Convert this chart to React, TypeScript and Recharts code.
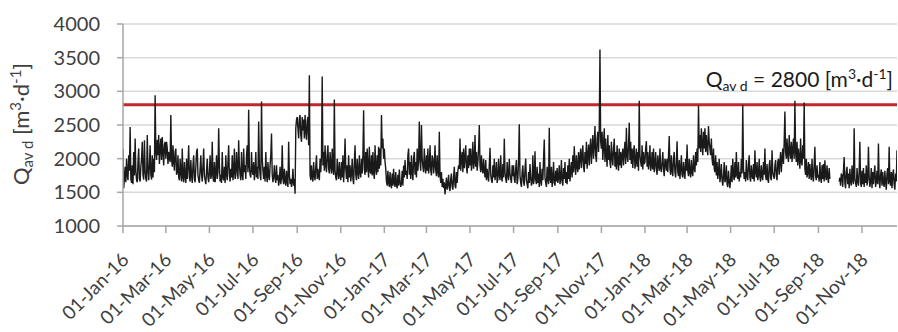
import { LineChart, Line, XAxis, YAxis, CartesianGrid, ReferenceLine } from 'recharts'

// daily mean flow Q_av d [m3/d], one value per day starting 01-Jan-2016
const flow2016a = [
  // Jan
  2150, 1560, 1700, 1880, 1650, 2000, 1760, 1680, 2050, 1820,
  2470, 1700, 1640, 1900, 1620, 2100, 1750, 2300, 1820, 1680,
  1650, 1950, 2150, 1700, 1660, 1880, 2000, 2250, 1760, 1690,
  2275,
  // Feb
  1820, 1700, 1660, 2350, 1850, 1680, 1900, 2200, 1760, 1690,
  2050, 1720, 2000, 1800, 2940, 2100, 1980, 2280, 2050, 2350,
  1920, 2150, 2300, 1980, 2320, 2100, 1900, 2200, 2250,
  // Mar
  2000, 2250, 2150, 1920, 2100, 2000, 1950, 2650, 2000, 1880,
  2200, 1950, 1820, 2100, 2150, 1760, 1800, 2050, 1720, 1680,
  2000, 1800, 1660, 2150, 1720, 1650, 1950, 1740, 1640, 2000,
  1700,
  // Apr
  1900, 2200, 1720, 1660, 1980, 1750, 1640, 1900, 2050, 1700,
  1650, 1880, 2100, 2150, 1760, 1680, 1640, 1850, 2050, 1760,
  1660, 1900, 2150, 1740, 1680, 1620, 1820, 2000, 1720, 1650,
  // May
  1800, 2050, 1700, 1760, 2250, 1720, 1660, 1950, 1650, 1780,
  2050, 1700, 1800, 2450, 1900, 1660, 1760, 1640, 2100, 1720,
  1680, 1880, 1640, 2050, 1760, 1680, 1950, 2200, 1760, 1660,
  1850,
  // Jun
  1720, 2050, 1680, 1800, 2150, 1700, 1760, 2100, 1850, 1700,
  2275, 1900, 1760, 1680, 2100, 1760, 1680, 2150, 1800, 1900,
  1700, 2050, 2200, 1800, 2725, 1880, 1760, 1720, 2100, 1820,
]

const flow2016b = [
  // Jul
  1760, 1950, 1680, 1820, 2100, 1720, 1880, 1700, 2550, 1900,
  1760, 1680, 2850, 2000, 1820, 1700, 1880, 1660, 2100, 1760,
  1650, 1950, 1740, 1680, 1900, 2050, 2375, 1760, 1650, 1740,
  1900,
  // Aug
  1700, 1640, 1900, 1680, 1760, 1600, 1680, 1880, 1620, 1720,
  2200, 1700, 1620, 1850, 1660, 1600, 1820, 1650, 1580, 2250,
  1760, 1620, 1700, 1580, 1660, 1850, 1600, 1700, 1480, 2450,
  2580,
  // Sep
  2620, 2450, 2300, 2600, 2650, 2350, 2250, 2620, 2420, 2580,
  2300, 2650, 2400, 2280, 2560, 2620, 2200, 3240, 1760, 1680,
  1900, 1720, 1660, 1950, 1740, 1680, 1880, 2050, 1700, 1850,
  // Oct
  1740, 1680, 2000, 1800, 2050, 3220, 1900, 2100, 1820, 2200,
  1900, 1800, 2050, 2200, 1850, 1780, 2100, 1900, 1780, 2150,
  1850, 1760, 2880, 1820, 1720, 1680, 2000, 1800, 1700, 1950,
  1760,
  // Nov
  1680, 1950, 1720, 2050, 1650, 1880, 2300, 1850, 1700, 1900,
  1650, 2050, 1720, 1900, 1660, 1780, 2000, 1700, 1620, 1950,
  2200, 1760, 1680, 2000, 1800, 1700, 2050, 1800, 1720, 2000,
  // Dec
  1780, 2050, 2720, 1840, 1760, 2100, 1800, 2150, 1880, 1720,
  2175, 1820, 1780, 2050, 1750, 2100, 1800, 1700, 2200, 1850,
  1760, 2050, 1800, 2175, 1850, 2150, 1900, 2650, 2150, 2300,
  2000,
]

const flow2017a = [
  // Jan
  2150, 1950, 1850, 1660, 1600, 1820, 1640, 1580, 1800, 1620,
  1560, 1780, 1600, 1850, 1640, 1580, 1800, 1620, 1560, 1760,
  1600, 1840, 1650, 1580, 1640, 1820, 1600, 1900, 1720, 1980,
  1760,
  // Feb
  1820, 1700, 2050, 2150, 1760, 1950, 1700, 2050, 1800, 1680,
  2000, 2100, 1760, 1950, 1720, 2150, 1820, 2000, 2550, 1950,
  1820, 2500, 2000, 1880, 1800, 2150, 1880, 1780,
  // Mar
  2050, 1820, 2150, 1780, 1900, 2200, 1820, 1750, 2050, 2000,
  1780, 1900, 2200, 1820, 1740, 2050, 1800, 1720, 2400, 1760,
  1640, 1800, 1580, 1700, 1560, 1650, 1470, 1600, 1720, 1540,
  1620,
  // Apr
  1760, 1560, 1520, 1700, 1780, 1580, 1540, 1720, 1880, 1600,
  1560, 1800, 1640, 1820, 1900, 1850, 2300, 1820, 2000, 2100,
  1800, 2150, 1860, 2000, 2200, 1880, 1780, 2050, 1860, 2150,
  // May
  1900, 2150, 1820, 1950, 2250, 1850, 1950, 2350, 1880, 2100,
  1820, 1950, 2150, 2500, 1900, 1800, 2050, 1850, 1780, 2000,
  1820, 1720, 1980, 1680, 1850, 1740, 1660, 1900, 2160, 1760,
  1680,
  // Jun
  1640, 1900, 1720, 2000, 1680, 1780, 1950, 1640, 1700, 2000,
  1760, 1680, 2050, 1740, 1660, 1920, 1720, 2295, 1800, 1700,
  1640, 1950, 1760, 1680, 2000, 1780, 1700, 1640, 1900, 1740,
]

const flow2017b = [
  // Jul
  1900, 1700, 1640, 1860, 1980, 1620, 1700, 1950, 2510, 1750,
  1640, 1580, 1800, 1900, 1660, 1600, 1850, 2000, 1680, 1620,
  1560, 1800, 1640, 1920, 1720, 1600, 1660, 2050, 1620, 1720,
  2110,
  // Aug
  1680, 1620, 1880, 1640, 1780, 1580, 1950, 1660, 1600, 1850,
  1680, 2000, 2285, 1720, 1640, 1580, 1880, 1700, 1620, 2460,
  1700, 1640, 1880, 1580, 1700, 1950, 1640, 1600, 1820, 1660,
  1860,
  // Sep
  1640, 1720, 1900, 1620, 1700, 1980, 1660, 1600, 1860, 1700,
  1950, 1640, 1800, 1620, 1900, 1700, 2000, 1660, 1820, 1950,
  1720, 2050, 1800, 2185, 1900, 1760, 2050, 1880, 1800, 2100,
  // Oct
  1840, 2000, 2150, 1860, 2050, 2200, 1880, 1800, 2100, 1920,
  2250, 1850, 2050, 2210, 1900, 2150, 2300, 1920, 2150, 2350,
  2000, 2200, 2485, 2050, 1950, 2300, 2400, 2100, 2450, 3620,
  2250,
  // Nov
  2150, 2400, 1980, 2200, 2450, 1950, 2300, 2050, 1880, 2350,
  1980, 2200, 1950, 1860, 2250, 2020, 1900, 2150, 2300, 1880,
  2100, 1840, 2200, 1950, 1820, 2150, 1900, 2100, 1860, 2050,
  // Dec
  2150, 1900, 2100, 2250, 1920, 2460, 2050, 1950, 2200, 2535,
  1980, 2250, 1920, 2150, 1860, 2100, 2200, 1850, 1950, 2150,
  1880, 2100, 1820, 2860, 2050, 1950, 1880, 2200, 1840, 2100,
  1920,
]

const flow2018a = [
  // Jan
  1950, 2150, 2260, 1880, 2100, 1840, 1950, 2200, 1820, 1900,
  2100, 1840, 2150, 1800, 1920, 2100, 1840, 1760, 2050, 1900,
  1820, 2150, 1860, 1800, 1940, 2100, 1840, 1740, 2000, 1950,
  1820,
  // Feb
  2000, 1800, 2050, 2335, 1850, 1760, 2050, 1820, 1740, 2000,
  2100, 1800, 1720, 1950, 2260, 1800, 1740, 1980, 1700, 1850,
  2050, 1760, 1720, 1950, 1800, 1700, 2000, 1820,
  // Mar
  2210, 1820, 1740, 2000, 1800, 1720, 1980, 1800, 1740, 2050,
  1850, 1800, 2100, 1900, 2150, 1950, 2785, 2150, 2350, 2100,
  2450, 2200, 2050, 2400, 2150, 2450, 2100, 2350, 2150, 2050,
  2485,
  // Apr
  2250, 2150, 2050, 2300, 2000, 1900, 2150, 1850, 1800, 2050,
  1750, 1950, 1700, 1800, 2000, 1650, 1750, 1920, 1680, 1600,
  1750, 1950, 1650, 1700, 1900, 1620, 1580, 1820, 1660, 1560,
  // May
  1700, 1900, 1650, 2000, 1750, 1680, 1950, 1720, 2100, 1760,
  1700, 1950, 1660, 1800, 1720, 2000, 1780, 2800, 1850, 1700,
  1800, 1660, 1980, 1740, 1680, 1920, 2050, 1720, 1660, 1900,
  1740,
  // Jun
  1700, 1920, 1660, 2125, 1800, 1720, 1950, 1680, 1760, 2000,
  1720, 1660, 1900, 1740, 1680, 1950, 1760, 2150, 1740, 1680,
  1920, 1700, 1640, 1900, 1980, 1720, 1680, 2125, 1800, 1740,
]

const flow2018b = [
  // Jul
  1700, 1900, 1980, 1740, 1680, 1950, 2000, 1760, 1950, 2100,
  1800, 2000, 2150, 1920, 2250, 2700, 2100, 2000, 2300, 2050,
  1950, 2350, 2100, 2000, 2250, 1950, 2150, 2300, 2000, 2860,
  2100,
  // Aug
  1950, 2250, 1900, 2150, 2000, 1850, 2300, 1950, 1900, 2200,
  2000, 2835, 1850, 1760, 2000, 1720, 1800, 1950, 1700, 1920,
  1760, 1680, 2000, 1740, 1660, 1920, 2175, 1740, 1680, 1900,
  1720,
  // Sep (no readings for about twelve days)
  1760, 1660, 1950, 1720, 1640, 1900, 1700, 1920, 1660, 1975,
  1740, 1680, 1900, 1720, 1640, 1860, 1700, null, null, null,
  null, null, null, null, null, null, null, null, null, 1660,
  // Oct
  1720, 1600, 1780, 1740, 1580, 1820, 2025, 1640, 1560, 1800,
  1880, 1620, 1780, 1560, 1850, 1660, 1600, 1900, 1680, 1620,
  2450, 1700, 1640, 1580, 1860, 1660, 1600, 1820, 2250, 1640,
  1580,
  // Nov
  1820, 1620, 1860, 1580, 1780, 1640, 1900, 1600, 1680, 2175,
  1740, 1580, 1660, 1860, 1560, 1800, 1620, 1780, 1900, 1580,
  1660, 1820, 1620, 2225, 1700, 1560, 1760, 1840, 1600, 1800,
  // Dec (to the 20th)
  1640, 1580, 1820, 1660, 1540, 1780, 1860, 1620, 2175, 1660,
  1600, 1800, 1560, 1760, 1840, 1620, 1540, 1780, 1660, 2125,
]

const tickLabels = [
  '01-Jan-16', '01-Mar-16', '01-May-16', '01-Jul-16', '01-Sep-16', '01-Nov-16',
  '01-Jan-17', '01-Mar-17', '01-May-17', '01-Jul-17', '01-Sep-17', '01-Nov-17',
  '01-Jan-18', '01-Mar-18', '01-May-18', '01-Jul-18', '01-Sep-18', '01-Nov-18',
]
const yTicks = [1000, 1500, 2000, 2500, 3000, 3500, 4000]
const qLimit = 2800

const MONTHS = ['Jan', 'Feb', 'Mar', 'Apr', 'May', 'Jun', 'Jul', 'Aug', 'Sep', 'Oct', 'Nov', 'Dec']
const START = Date.UTC(2016, 0, 1)

const dayOf = (label: string) => {
  const [d, m, y] = label.split('-')
  return Math.round((Date.UTC(2000 + Number(y), MONTHS.indexOf(m), Number(d)) - START) / 86400000)
}

const labelOf = (day: number) => tickLabels.find((l) => dayOf(l) === day) ?? ''

const flow = [...flow2016a, ...flow2016b, ...flow2017a, ...flow2017b, ...flow2018a, ...flow2018b]
const data = flow.map((q, i) => ({ t: i, q }))

const TEXT = '#404040'
const FONT = 'Lato, "Open Sans", sans-serif'

const XTick = (props: any) => {
  const { x, y, payload } = props
  const tx = x + 7
  const ty = y + 26
  return (
    <text x={tx} y={ty} transform={`rotate(-45, ${tx}, ${ty})`} textAnchor="end" fontSize={19} fill={TEXT}>
      {labelOf(payload.value)}
    </text>
  )
}

const YTitle = () => (
  <text x={29} y={124} transform="rotate(-90, 29, 124)" textAnchor="middle" fontSize={22} fill={TEXT}>
    Q
    <tspan fontSize={15} dy={4}>av d</tspan>
    <tspan dy={-4}> [m</tspan>
    <tspan fontSize={15} dy={-8}>3</tspan>
    <tspan dy={8}>·d</tspan>
    <tspan fontSize={15} dy={-8}>-1</tspan>
    <tspan dy={8}>]</tspan>
  </text>
)

const LimitLabel = (props: any) => {
  const { viewBox } = props
  const x = viewBox.x + viewBox.width - 4
  const y = viewBox.y - 18
  return (
    <text x={x} y={y} textAnchor="end" fontSize={21} fill="#1a1a1a">
      Q
      <tspan fontSize={14} dy={4}>av d</tspan>
      <tspan dy={-4}> = {qLimit} [m</tspan>
      <tspan fontSize={14} dy={-8}>3</tspan>
      <tspan dy={8}>·d</tspan>
      <tspan fontSize={14} dy={-8}>-1</tspan>
      <tspan dy={8}>]</tspan>
    </text>
  )
}

export default function App() {
  return (
    <div style={{ position: 'absolute', left: 0, top: 0, width: 898, height: 332, background: '#fff', fontFamily: FONT }}>
      <LineChart width={898} height={332} data={data} margin={{ top: 24, right: 1, bottom: 76, left: 0 }}>
        <CartesianGrid vertical={false} stroke="#d9d9d9" strokeWidth={1.5} />
        <XAxis
          type="number"
          dataKey="t"
          domain={[0, data.length - 1]}
          ticks={tickLabels.map(dayOf)}
          interval={0}
          height={30}
          tick={<XTick />}
          tickSize={7}
          stroke="#a6a6a6"
          strokeWidth={1.5}
          allowDataOverflow
        />
        <YAxis
          domain={[1000, 4000]}
          ticks={yTicks}
          interval={0}
          width={123}
          tickSize={6}
          tickMargin={17}
          stroke="#a6a6a6"
          strokeWidth={1.5}
          tick={{ fontSize: 20, fill: TEXT }}
          label={{ content: <YTitle /> }}
        />
        <ReferenceLine y={qLimit} stroke="#c0282d" strokeWidth={3} label={<LimitLabel />} />
        <Line
          type="linear"
          dataKey="q"
          stroke="#1a1a1a"
          strokeWidth={1.4}
          dot={false}
          connectNulls={false}
          isAnimationActive={false}
        />
      </LineChart>
    </div>
  )
}
